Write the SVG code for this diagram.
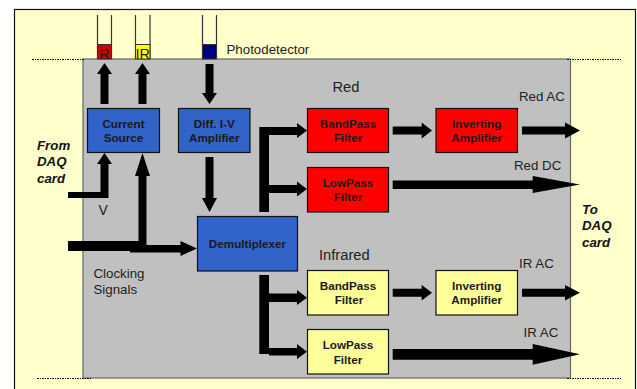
<svg xmlns="http://www.w3.org/2000/svg" width="637" height="389" viewBox="0 0 637 389">
<style>
text{font-family:"Liberation Sans",Arial,sans-serif;fill:#111}
.b{font-weight:bold;font-size:11.7px;text-anchor:middle;fill:#1a1a1a}
.l{font-size:13.3px;fill:#222}
.h{font-size:14.7px}
.i{font-weight:bold;font-style:italic;font-size:13.3px}
.box{stroke:#111;stroke-width:1.2}
.blue{fill:#3163c8}.red{fill:#fe0000}.yel{fill:#ffff99}
.tube{fill:none;stroke:#333;stroke-width:1.2}
.dot{stroke:#111;stroke-width:1.2;stroke-dasharray:2 1 1 1;fill:none}
.ar{fill:#000}
</style>
<rect x="14.5" y="9.5" width="621" height="385" fill="#ffffcc" stroke="#111" stroke-width="1.2"/>
<rect x="83" y="59" width="487.5" height="319" fill="#c0c0c0" stroke="#666" stroke-width="1.2"/>
<path class="dot" d="M32 59.5H85M567 59.5H621M37 378.5H91M567 378.5H621"/>
<g id="photodetector-r"><path class="tube" d="M97.5 15V59M111.5 15V59"/><rect x="97.5" y="44.5" width="14" height="14.5" fill="#cc0000" stroke="#333"/><text x="104.5" y="58.5" text-anchor="middle" class="l" style="font-size:14.5px">R</text></g>
<g id="photodetector-ir"><path class="tube" d="M135.5 15V59M150 15V59"/><rect x="135.5" y="44.5" width="14.5" height="14.5" fill="#ffff00" stroke="#333"/><text x="142.8" y="58.5" text-anchor="middle" class="l" style="font-size:14.5px">IR</text></g>
<g id="photodetector-blue"><path class="tube" d="M202.5 15V59M216.5 15V59"/><rect x="202.5" y="44.5" width="14" height="14.5" fill="#000080" stroke="#333"/></g>
<text x="226.5" y="54" class="l">Photodetector</text>
<g id="connectors" class="ar">
<polygon points="100.5,104 100.5,74 97,74 104.5,63 112,74 108.5,74 108.5,104"/>
<polygon points="138.5,104 138.5,74 135,74 142.5,63 150,74 146.5,74 146.5,104"/>
<polygon points="205.5,64 213.5,64 213.5,93 217,93 209.5,104 202,93 205.5,93"/>
<polygon points="68,192 100.5,192 100.5,164 97,164 104.5,153 112,164 108.5,164 108.5,198 68,198"/>
<polygon points="68,241 138.5,241 138.5,176 135,176 142.5,153 150,176 146.5,176 146.5,245 180.5,245 180.5,241 197,248.5 180.5,256 180.5,252.5 130,252.5 130,251 68,251"/>
<polygon points="205.5,157 213.5,157 213.5,198 217,198 209.5,212 202,198 205.5,198"/>
<polygon points="259.3,212 259.3,127 269,127 297,127 297,123 307,130.5 297,138 297,135 269,135 269,185 297,185 297,181.5 307,189 297,196.5 297,193 269,193 269,212"/>
<polygon points="259.3,275 269,275 269,293.5 297,293.5 297,290 307,297.7 297,305 297,302 269,302 269,348 297,348 297,344 307,351.7 297,359 297,355.5 269,355.5 269,354 259.3,354"/>
<polygon points="392.7,126.5 421.7,126.5 421.7,122.5 432,130.5 421.7,138.5 421.7,134.5 392.7,134.5"/>
<polygon points="522,126.5 565,126.5 565,122.5 580,130.5 565,138.5 565,134.5 522,134.5"/>
<polygon points="392.7,180.5 532.7,180.5 532.7,176 580,184.5 532.7,193 532.7,189 392.7,189"/>
<polygon points="392.7,288.7 421.7,288.7 421.7,285 432,292.7 421.7,300.5 421.7,296.7 392.7,296.7"/>
<polygon points="522,288.7 565,288.7 565,285 580,292.7 565,300.5 565,296.7 522,296.7"/>
<polygon points="392.7,349 532.7,349 532.7,344 580,354.3 532.7,364.7 532.7,359.7 392.7,359.7"/>
</g>
<g id="current-source"><rect class="box blue" x="87.5" y="108.5" width="72" height="44"/><text class="b" x="123.5" y="128">Current</text><text class="b" x="123.5" y="142">Source</text></g>
<g id="diff-amp"><rect class="box blue" x="178.5" y="108.5" width="71.5" height="44"/><text class="b" x="214.3" y="128">Diff. I-V</text><text class="b" x="214.3" y="142">Amplifier</text></g>
<g id="demux"><rect class="box blue" x="197.5" y="216.5" width="100" height="54.5"/><text class="b" x="247.5" y="248">Demultiplexer</text></g>
<g id="red-bp"><rect class="box red" x="307.5" y="108.5" width="81" height="44"/><text class="b" x="348" y="128">BandPass</text><text class="b" x="348" y="142">Filter</text></g>
<g id="red-inv"><rect class="box red" x="436" y="108.5" width="81.5" height="44"/><text class="b" x="476.7" y="128">Inverting</text><text class="b" x="476.7" y="142">Amplifier</text></g>
<g id="red-lp"><rect class="box red" x="307.5" y="167.5" width="81" height="44.5"/><text class="b" x="348" y="187">LowPass</text><text class="b" x="348" y="201">Filter</text></g>
<g id="ir-bp"><rect class="box yel" x="307.5" y="270.5" width="81" height="44.5"/><text class="b" x="348" y="290">BandPass</text><text class="b" x="349" y="304">Filter</text></g>
<g id="ir-inv"><rect class="box yel" x="436" y="270.5" width="81.5" height="44.5"/><text class="b" x="476.7" y="290">Inverting</text><text class="b" x="476.7" y="304">Amplifier</text></g>
<g id="ir-lp"><rect class="box yel" x="307.5" y="329.5" width="81" height="44.5"/><text class="b" x="348" y="349">LowPass</text><text class="b" x="348" y="364">Filter</text></g>
<g id="labels">
<text class="i" x="37" y="150">From</text><text class="i" x="37" y="166">DAQ</text><text class="i" x="37" y="183">card</text>
<text class="i" x="582" y="214">To</text><text class="i" x="582" y="230">DAQ</text><text class="i" x="582" y="247">card</text>
<text class="l" x="98.5" y="215" style="font-size:14px">V</text>
<text class="l" x="93.5" y="278">Clocking</text><text class="l" x="93.5" y="294">Signals</text>
<text class="l h" x="332.5" y="92">Red</text>
<text class="l" x="519" y="101">Red AC</text>
<text class="l" x="514" y="170">Red DC</text>
<text class="l h" x="319" y="260">Infrared</text>
<text class="l" x="519" y="268">IR AC</text>
<text class="l" x="523.5" y="337">IR AC</text>
</g>
</svg>
